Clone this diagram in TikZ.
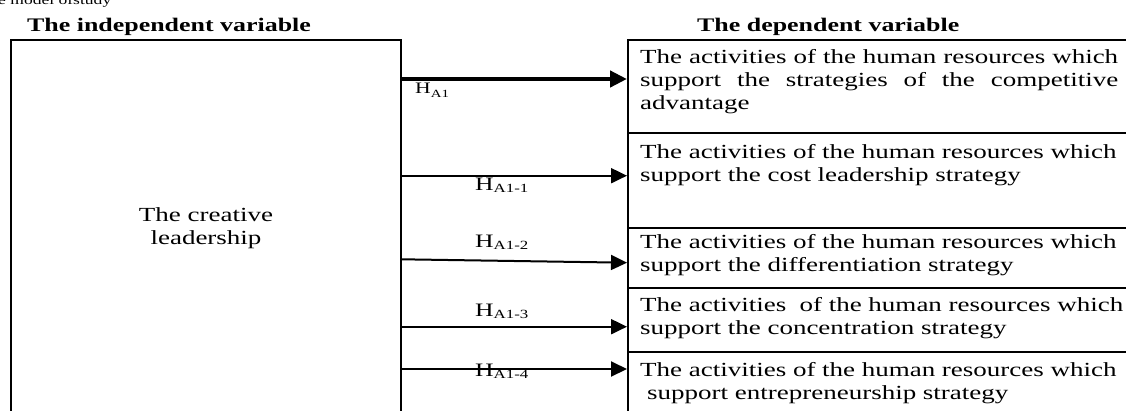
\documentclass[tikz,border=0pt]{standalone}
\usepackage{fontspec}
\setmainfont{Liberation Serif}[FakeStretch=1.35]
\usetikzlibrary{arrows.meta}
\newcommand{\hyp}[3]{H\raisebox{-#3}{\fontsize{#2}{#2}\selectfont #1}}
\begin{document}
\begin{tikzpicture}[x=1pt,y=-1pt,
  box/.style={draw, line width=2pt, inner sep=0pt, anchor=north west},
  txt/.style={font=\fontsize{20}{23}\selectfont, inner sep=0pt, text width=490pt, align=left, anchor=base west},
  head/.style={font=\fontsize{19.2}{22}\selectfont\bfseries, inner sep=0pt, anchor=base west},
  thinarrow/.style={line width=2pt, -{Triangle[length=16pt,width=15pt]}},
  thickarrow/.style={line width=4.5pt, -{Triangle[length=17pt,width=16pt]}},
  lab/.style={font=\fontsize{19}{19}\selectfont, inner sep=0pt, anchor=base west}]
\useasboundingbox (0,0) rectangle (1126,410);
\clip (0,0) rectangle (1126,410);
% caption remnant
\node[anchor=base west, inner sep=0pt, font=\fontsize{13}{13}\selectfont] (cap) at (-2,4) {e model ofstudy};
% headers
\node[head] (hl) at (27,31) {The independent variable};
\node[head] (hr) at (697,31) {The dependent variable};
% independent variable box
\node[box, minimum width=390pt, minimum height=376pt, align=center,
      font=\fontsize{20}{23}\selectfont] (iv) at (10,39) {The creative\\leadership};
% dependent variable boxes
\node[box, minimum width=510pt, minimum height=93.5pt] (d1) at (627,38.5) {};
\node[box, minimum width=510pt, minimum height=95pt] (d2) at (627,132) {};
\node[box, minimum width=510pt, minimum height=60pt] (d3) at (627,227) {};
\node[box, minimum width=510pt, minimum height=64pt] (d4) at (627,287) {};
\node[box, minimum width=510pt, minimum height=64pt] (d5) at (627,351) {};
% texts
\node[txt, text width=478pt, align=justify] (t1) at (640,63) {The activities of the human resources which\linebreak support the strategies of the competitive\linebreak advantage};
\node[txt] (t2) at (640,158) {The activities of the human resources which\\support the cost leadership strategy};
\node[txt] (t3) at (640,248) {The activities of the human resources which\\support the differentiation strategy};
\node[txt] (t4) at (640,311) {The activities\ \ of the human resources which\\support the concentration strategy};
\node[txt] (t5) at (640,376) {The activities of the human resources which\\\hspace*{7pt}support entrepreneurship strategy};
% arrows
\coordinate (y1) at (0,79);
\coordinate (y2) at (0,175.7);
\coordinate (y3s) at (0,259.3);
\coordinate (y3e) at (0,262.7);
\coordinate (y4) at (0,326.7);
\coordinate (y5) at (0,369);
\draw[thickarrow] (iv.east |- y1) -- (d1.west |- y1);
\draw[thinarrow] (iv.east |- y2) -- (d2.west |- y2);
\draw[thinarrow] (iv.east |- y3s) -- (d3.west |- y3e);
\draw[thinarrow] (iv.east |- y4) -- (d4.west |- y4);
\draw[thinarrow] (iv.east |- y5) -- (d5.west |- y5);
% labels
\node[lab, font=\fontsize{16}{16}\selectfont] (h0) at (415,93) {\hyp{A1}{11}{4pt}};
\node[lab] (h1) at (475,190) {\hyp{A1-1}{12.5}{2.5pt}};
\node[lab] (h2) at (475,247) {\hyp{A1-2}{12.5}{2.5pt}};
\node[lab] (h3) at (475,316) {\hyp{A1-3}{12.5}{2.5pt}};
\node[lab] (h4) at (475,376) {\hyp{A1-4}{12.5}{2.5pt}};
\end{tikzpicture}
\end{document}
